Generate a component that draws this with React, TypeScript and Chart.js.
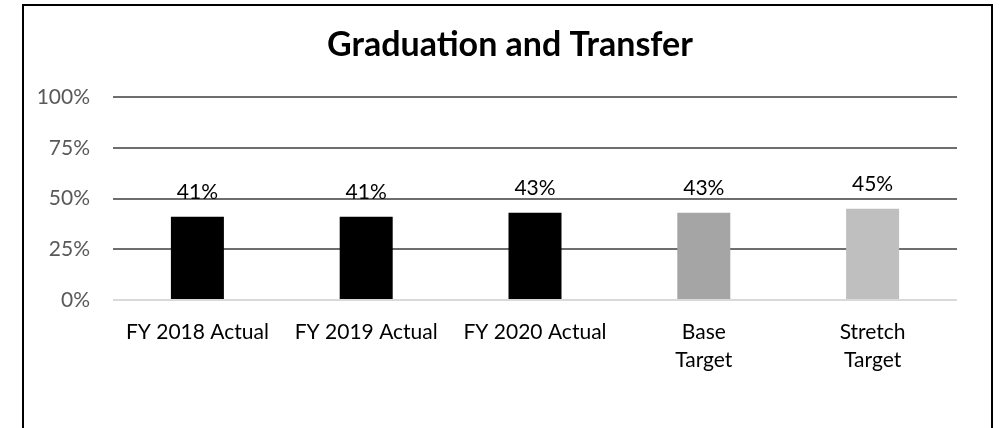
import React, { useEffect, useRef } from "react";
import { Chart, registerables } from "chart.js";

Chart.register(...registerables);

const TITLE = "Graduation and Transfer";
const categories: (string | string[])[] = [
  "FY 2018 Actual",
  "FY 2019 Actual",
  "FY 2020 Actual",
  ["Base", "Target"],
  ["Stretch", "Target"],
];
const values = [41, 41, 43, 43, 45];
const barColors = ["#000000", "#000000", "#000000", "#a5a5a5", "#bfbfbf"];
const yTicks = [0, 25, 50, 75, 100];

const FONT = "Lato, 'Open Sans', sans-serif";

const titlePlugin = {
  id: "frameTitle",
  afterDraw(chart: any) {
    const ctx = chart.ctx;
    ctx.save();
    ctx.font = `bold 34px ${FONT}`;
    ctx.fillStyle = "#000000";
    ctx.textAlign = "center";
    ctx.textBaseline = "middle";
    ctx.fillText(TITLE, 510, 45);
    ctx.restore();
  },
};

const valueLabelPlugin = {
  id: "valueLabels",
  afterDatasetsDraw(chart: any) {
    const ctx = chart.ctx;
    const meta = chart.getDatasetMeta(0);
    ctx.save();
    ctx.font = `21px ${FONT}`;
    ctx.fillStyle = "#000000";
    ctx.textAlign = "center";
    ctx.textBaseline = "alphabetic";
    meta.data.forEach((bar: any, i: number) => {
      ctx.fillText(`${values[i]}%`, bar.x, bar.y - 18);
    });
    ctx.restore();
  },
};

export default function App() {
  const ref = useRef<HTMLCanvasElement | null>(null);

  useEffect(() => {
    if (!ref.current) return;
    const chart = new Chart(ref.current, {
      type: "bar",
      data: {
        labels: categories,
        datasets: [
          {
            data: values,
            backgroundColor: barColors,
            borderWidth: 0,
            barPercentage: 0.314,
            categoryPercentage: 1,
          },
        ],
      },
      options: {
        responsive: false,
        animation: false,
        layout: { padding: { top: 97, right: 47, left: 0, bottom: 0 } },
        plugins: {
          legend: { display: false },
          title: { display: false },
          tooltip: { enabled: false },
        },
        scales: {
          x: {
            grid: { display: false, drawTicks: false },
            border: { display: false },
            ticks: {
              color: "#000000",
              font: { family: FONT, size: 21, lineHeight: 1.333 },
              padding: 18,
              maxRotation: 0,
              autoSkip: false,
            },
            afterFit(scale: any) {
              scale.height = 128;
            },
          },
          y: {
            min: 0,
            max: 100,
            afterBuildTicks(scale: any) {
              scale.ticks = yTicks.map((v) => ({ value: v }));
            },
            grid: {
              drawTicks: false,
              lineWidth: 2,
              color: (c: any) => (c.tick && c.tick.value === 0 ? "#d9d9d9" : "#6e6e6e"),
            },
            border: { display: false },
            ticks: {
              color: "#595959",
              font: { family: FONT, size: 21 },
              padding: 23,
              callback: (v: any) => `${v}%`,
            },
            afterFit(scale: any) {
              scale.width = 113;
            },
          },
        },
      },
      plugins: [titlePlugin, valueLabelPlugin],
    });
    return () => chart.destroy();
  }, []);

  return (
    <div
      style={{
        position: "fixed",
        left: 0,
        top: 0,
        width: 1004,
        height: 428,
        overflow: "hidden",
        background: "#ffffff",
      }}
    >
      <canvas ref={ref} width={1004} height={428} style={{ position: "absolute", left: 0, top: 0 }} />
      <div
        style={{
          position: "absolute",
          left: 22,
          top: 4,
          width: 971,
          height: 520,
          border: "2px solid #000000",
          boxSizing: "border-box",
        }}
      />
    </div>
  );
}
